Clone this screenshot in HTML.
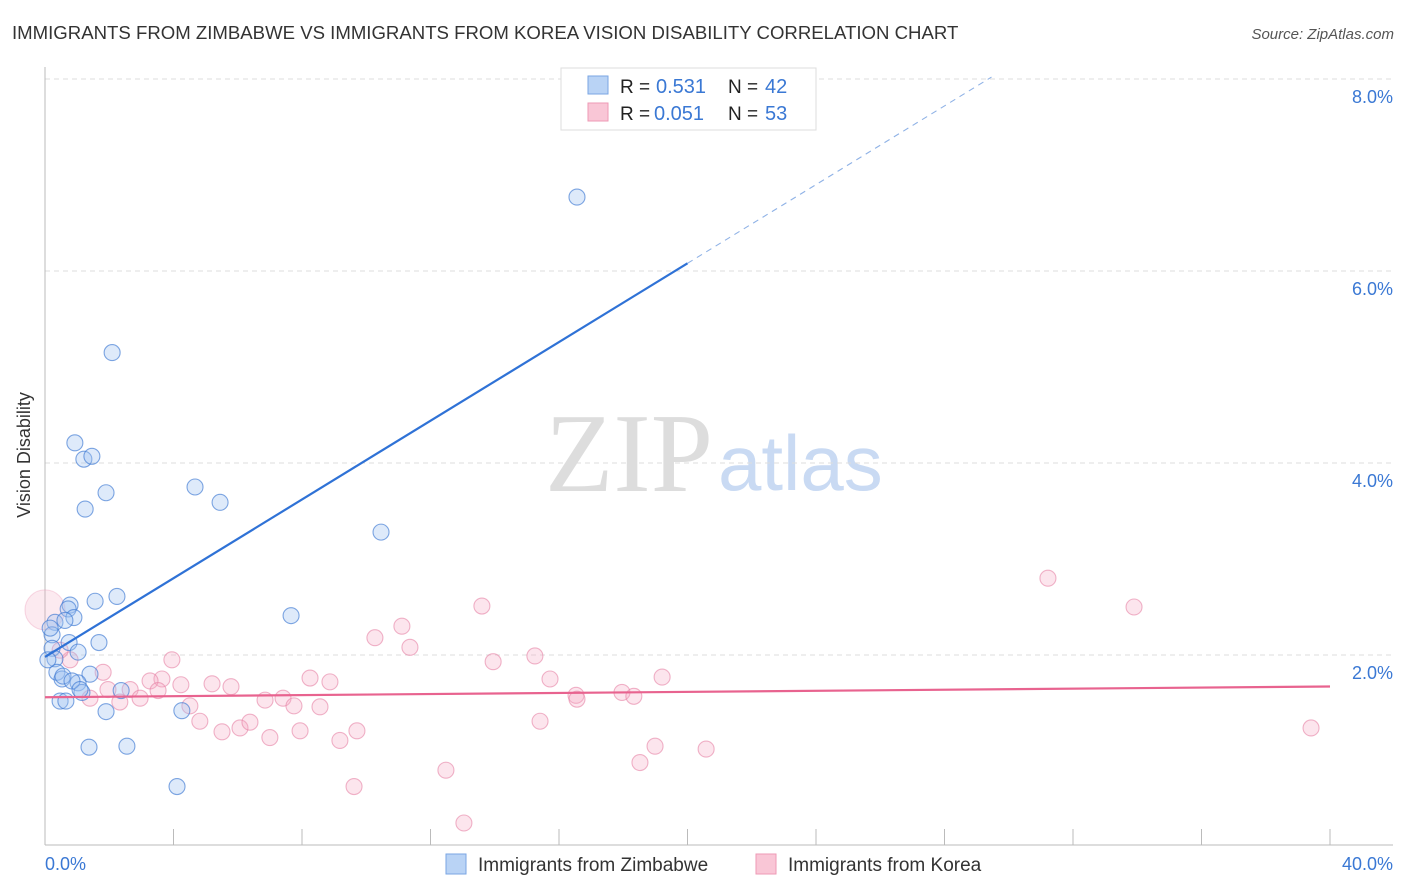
<!DOCTYPE html>
<html><head><meta charset="utf-8"><style>
body{margin:0;background:#fff;font-family:"Liberation Sans",sans-serif;}
svg{display:block}
</style></head><body>
<svg id="chart" width="1406" height="892">
<text x="12" y="39" font-size="18.6" fill="#333">IMMIGRANTS FROM ZIMBABWE VS IMMIGRANTS FROM KOREA VISION DISABILITY CORRELATION CHART</text>
<text x="1394" y="39" font-size="15" fill="#555" text-anchor="end" font-style="italic">Source: ZipAtlas.com</text>
<text x="713" y="491" font-size="112" fill="#ddd" text-anchor="end" font-family="Liberation Serif,serif">ZIP</text>
<text x="718" y="490" font-size="78" fill="#c9daf3">atlas</text>
<g id="grid"></g>
<line x1="45" y1="67" x2="45" y2="845" stroke="#bbb"/>
<line x1="45" y1="845" x2="1393" y2="845" stroke="#bbb"/>
<text x="30" y="455" font-size="18" fill="#333" text-anchor="middle" transform="rotate(-90 30 455)">Vision Disability</text>
<text x="45" y="870" font-size="18" fill="#3a78d4">0.0%</text>
<text x="1393" y="870" font-size="18" fill="#3a78d4" text-anchor="end">40.0%</text>
<g id="pts"></g>
<g id="lines"></g>
<g>
<rect x="561" y="68" width="255" height="62" fill="#fff" stroke="#ddd"/>
<rect x="588" y="76" width="20" height="18" fill="#b9d3f5" stroke="#7aa6e3"/>
<rect x="588" y="103" width="20" height="18" fill="#f9c6d6" stroke="#ee9ab5"/>
<text x="620" y="93" font-size="19" fill="#222">R = </text>
<text x="656" y="93" font-size="20" fill="#3a78d4">0.531</text>
<text x="728" y="93" font-size="19" fill="#222">N = </text>
<text x="765" y="93" font-size="20" fill="#3a78d4">42</text>
<text x="620" y="120" font-size="19" fill="#222">R = </text>
<text x="654" y="120" font-size="20" fill="#3a78d4">0.051</text>
<text x="728" y="120" font-size="19" fill="#222">N = </text>
<text x="765" y="120" font-size="20" fill="#3a78d4">53</text>
</g>
<g>
<rect x="446" y="854" width="20" height="20" fill="#b9d3f5" stroke="#7aa6e3"/>
<text x="478" y="871" font-size="19" fill="#333">Immigrants from Zimbabwe</text>
<rect x="756" y="854" width="20" height="20" fill="#f9c6d6" stroke="#ee9ab5"/>
<text x="788" y="871" font-size="19" fill="#333">Immigrants from Korea</text>
</g>
</svg>
<script>
const yTicks=[2,4,6,8];
const xTicks=[0,4,8,12,16,20,24,28,32,36,40];
const blueX=[16.56,2.09,0.93,1.21,1.46,1.90,4.67,5.45,1.25,10.46,2.24,1.56,0.78,0.72,7.66,0.90,0.31,0.22,1.68,0.75,0.22,1.03,0.31,0.37,1.40,0.53,1.03,1.15,2.37,0.47,0.65,1.90,4.26,1.37,2.55,4.11,0.09,0.16,0.56,0.84,1.09,0.62];
const blueY=[6.77,5.15,4.21,4.04,4.07,3.69,3.75,3.59,3.52,3.28,2.61,2.56,2.52,2.48,2.41,2.39,2.34,2.21,2.13,2.13,2.07,2.03,1.96,1.82,1.80,1.75,1.71,1.61,1.63,1.52,1.52,1.41,1.42,1.04,1.05,0.63,1.95,2.28,1.78,1.73,1.64,2.36];
const pinkX=[0,3.95,1.81,3.64,3.27,4.23,5.20,5.79,1.96,2.65,3.52,1.40,2.33,2.96,4.51,4.82,5.51,6.07,6.38,7.00,6.85,7.41,7.75,7.94,8.25,8.87,8.56,9.18,9.71,10.27,11.11,11.36,9.62,12.48,13.04,13.60,13.95,15.25,15.72,15.41,16.53,16.56,17.96,18.33,18.52,18.99,19.21,20.58,31.22,33.90,39.41,0.78,0.47];
const pinkY=[2.47,1.95,1.82,1.75,1.73,1.69,1.70,1.67,1.64,1.64,1.63,1.55,1.51,1.55,1.47,1.31,1.20,1.24,1.30,1.14,1.53,1.55,1.47,1.21,1.76,1.72,1.46,1.11,1.21,2.18,2.30,2.08,0.63,0.80,0.25,2.51,1.93,1.99,1.75,1.31,1.58,1.54,1.61,1.57,0.88,1.05,1.77,1.02,2.80,2.50,1.24,1.95,2.05];
const blueTrend=[1.98,0.205];
const pinkTrend=[1.56,0.0028];
const sx=v=>45+v*32.125, sy=v=>847-v*96;
const NS='http://www.w3.org/2000/svg';
function mk(t,a,p){const e=document.createElementNS(NS,t);for(const k in a)e.setAttribute(k,a[k]);p.appendChild(e);return e;}
const grid=document.getElementById('grid');
yTicks.forEach(t=>{
 const l=mk('line',{x1:45,x2:1393,y1:sy(t),y2:sy(t),stroke:'#ddd','stroke-dasharray':'5,4'},grid);
 
 
 const tx=mk('text',{x:1393,y:sy(t)+24,'font-size':18,fill:'#3a78d4','text-anchor':'end'},grid);
 tx.textContent=t.toFixed(1)+'%';
 
 
});
xTicks.forEach(t=>{
 const l=mk('line',{x1:sx(t),x2:sx(t),y1:829,y2:845,stroke:'#bbb'},grid);
 
 
});
const pts=document.getElementById('pts');
pinkX.forEach((x,i)=>{
 const big=i===0;
 const c=mk('circle',{cx:sx(x),cy:sy(pinkY[i]),r:big?20:8,fill:big?'rgba(245,170,195,0.25)':'rgba(245,170,195,0.3)',stroke:big?'rgba(235,150,180,0.35)':'rgba(230,130,165,0.6)','stroke-width':1.1},pts);
 
 
});
blueX.forEach((x,i)=>{
 const c=mk('circle',{cx:sx(x),cy:sy(blueY[i]),r:8,fill:'rgba(160,195,240,0.35)',stroke:'rgba(60,120,210,0.65)','stroke-width':1.1},pts);
 
 
});
const lines=document.getElementById('lines');
const bf=x=>blueTrend[0]+blueTrend[1]*x;
let l=mk('line',{x1:sx(0),y1:sy(bf(0)),x2:sx(20),y2:sy(bf(20)),stroke:'#2f72d6','stroke-width':2.2},lines);


const xe=(8.02-blueTrend[0])/blueTrend[1];
l=mk('line',{x1:sx(20),y1:sy(bf(20)),x2:sx(xe),y2:sy(bf(xe)),stroke:'#8fb2e6','stroke-width':1.1,'stroke-dasharray':'6,5'},lines);


const pf=x=>pinkTrend[0]+pinkTrend[1]*x;
l=mk('line',{x1:sx(0),y1:sy(pf(0)),x2:sx(40),y2:sy(pf(40)),stroke:'#e8638f','stroke-width':2.2},lines);


</script>
</body></html>
